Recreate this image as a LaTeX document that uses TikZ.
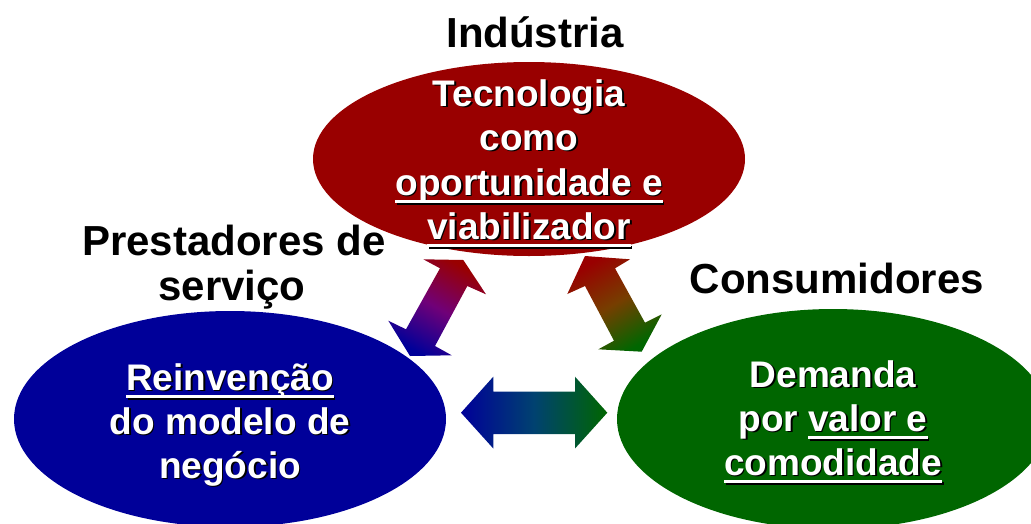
\documentclass[tikz,border=0pt]{standalone}
\usepackage{fontspec}
\setmainfont{Liberation Sans}
\usetikzlibrary{shapes.geometric}
\definecolor{cred}{RGB}{153,0,0}
\definecolor{cblue}{RGB}{0,0,153}
\definecolor{cgreen}{RGB}{0,102,0}
\definecolor{cpurple}{RGB}{112,0,120}
\definecolor{cbrown}{RGB}{118,62,0}
\definecolor{cteal}{RGB}{0,66,112}
\newcommand\ulx[1]{\setbox0=\hbox{#1}\rlap{\rule[-8pt]{\wd0}{3pt}}\box0}
\newcommand\shline[4]{%
  \node[intext, text=black] (#1s) at (#2+1.6,#3+1.6) {#4};
  \node[intext, text=white] (#1) at (#2,#3) {#4};}
\tikzset{
  blob/.style={ellipse, inner sep=0pt, draw=none},
  intext/.style={anchor=base, inner sep=0pt, font=\bfseries\fontsize{37}{44}\selectfont},
  title/.style={anchor=base, inner sep=0pt, text=black, font=\bfseries\fontsize{42}{50}\selectfont},
}
\begin{document}
\begin{tikzpicture}[x=1pt,y=-1pt]
\useasboundingbox (0,0) rectangle (1031,523);
\clip (0,0) rectangle (1031,523);
% ellipses
\node[blob, fill=cred, minimum width=432pt, minimum height=194pt] (ind) at (529,159) {};
\node[blob, fill=cblue, minimum width=432pt, minimum height=216pt] (pre) at (230,419) {};
\node[blob, fill=cgreen, minimum width=432pt, minimum height=220pt] (con) at (833,419) {};
% block arrows
\shade[top color=cred, bottom color=cblue, middle color=cpurple, shading angle=-29]
  (463.3,260) -- (486,294.3) -- (467.3,286) -- (435,346) -- (451.7,355.3) -- (410,356)
  -- (388.3,320.7) -- (406,329.3) -- (440,268.3) -- (423.3,259.3) -- cycle;
\shade[top color=cred, bottom color=cgreen, middle color=cbrown, shading angle=30]
  (567.3,294) -- (585,256) -- (630,259.3) -- (615,268.3) -- (645,322.7) -- (661.7,314.3)
  -- (641.7,351.7) -- (598.3,349.3) -- (614,340.7) -- (585,286) -- cycle;
\shade[left color=cblue, right color=cgreen, middle color=cteal]
  (461,412.7) -- (493.3,376.7) -- (493.3,391.7) -- (575,391.7) -- (575,376.7) -- (607.3,412.7)
  -- (575,448.5) -- (575,434) -- (493.3,434) -- (493.3,448.5) -- cycle;
% titles
\node[title] (t1) at (535,47) {Indústria};
\node[title] (t2) at (234,255) {Prestadores de};
\node[title] (t3) at (232,300) {serviço};
\node[title] (t4) at (837,293) {Consumidores};
% ellipse texts
\shline{r1}{529}{106}{Tecnologia}
\shline{r2}{529}{150}{como}
\shline{r3}{529}{195}{\ulx{oportunidade e}}
\shline{r4}{529}{239}{\ulx{viabilizador}}
\shline{b1}{230}{390}{\ulx{Reinvenção}}
\shline{b2}{230}{434}{do modelo de}
\shline{b3}{230}{478}{negócio}
\shline{g1}{833}{387}{Demanda}
\shline{g2}{833}{431}{por \ulx{valor e}}
\shline{g3}{833}{475}{\ulx{comodidade}}
\end{tikzpicture}
\end{document}
